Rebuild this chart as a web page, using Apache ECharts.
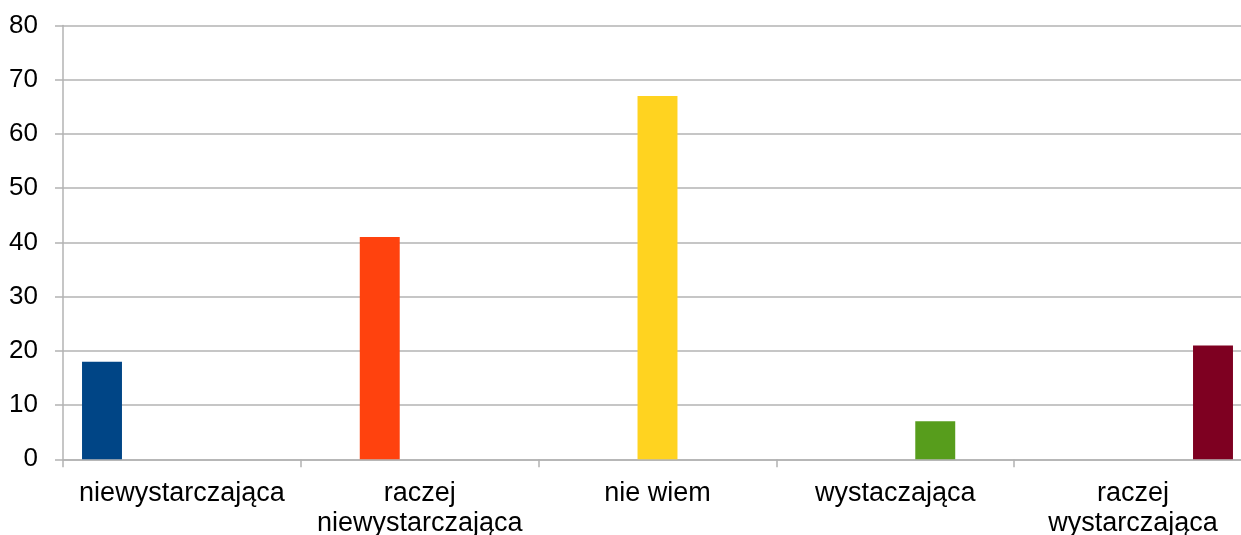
<!DOCTYPE html>
<html>
<head>
<meta charset="utf-8">
<script src="https://cdn.jsdelivr.net/npm/echarts@6/dist/echarts.min.js"></script>
<style>
html,body{margin:0;padding:0;background:#fff;overflow:hidden;}
#c{width:1241px;height:535px;}
</style>
</head>
<body>
<div id="c"></div>
<script>
const categories = ['niewystarczająca', 'raczej\nniewystarczająca', 'nie wiem', 'wystaczająca', 'raczej\nwystarczająca'];
const values = [18, 41, 67, 7, 21];
const colors = ['#004586', '#ff420e', '#ffd320', '#579d1c', '#7e0021'];
const yMin = 0, yMax = 80, yStep = 10;

const chart = echarts.init(document.getElementById('c'), null, {renderer: 'canvas'});
const series = values.map((v, i) => ({
  type: 'bar',
  data: categories.map((c, j) => j === i ? v : '-'),
  itemStyle: {color: colors[i]},
  barGap: '0%',
  barCategoryGap: '16%',
  animation: false
}));
const font = '"Liberation Sans", Arial, sans-serif';
chart.setOption({
  animation: false,
  grid: {left: 63, top: 25.5, right: -11, bottom: 75.7, containLabel: false, outerBoundsMode: 'none'},
  xAxis: {
    type: 'category',
    data: categories,
    boundaryGap: true,
    axisLine: {lineStyle: {color: '#b3b3b3', width: 1.5}},
    axisTick: {show: true, length: 8, alignWithLabel: false, lineStyle: {color: '#b3b3b3', width: 1.5}},
    axisLabel: {color: '#000', fontFamily: font, fontSize: 27, lineHeight: 30, margin: 19, interval: 0}
  },
  yAxis: {
    type: 'value',
    min: yMin, max: yMax, interval: yStep,
    axisLine: {show: true, lineStyle: {color: '#b3b3b3', width: 1.5}},
    axisTick: {show: true, length: 8, lineStyle: {color: '#b3b3b3', width: 1.5}},
    splitLine: {show: true, lineStyle: {color: '#b3b3b3', width: 1.5}},
    axisLabel: {color: '#000', fontFamily: font, fontSize: 26, margin: 25}
  },
  series: series
});
</script>
</body>
</html>
